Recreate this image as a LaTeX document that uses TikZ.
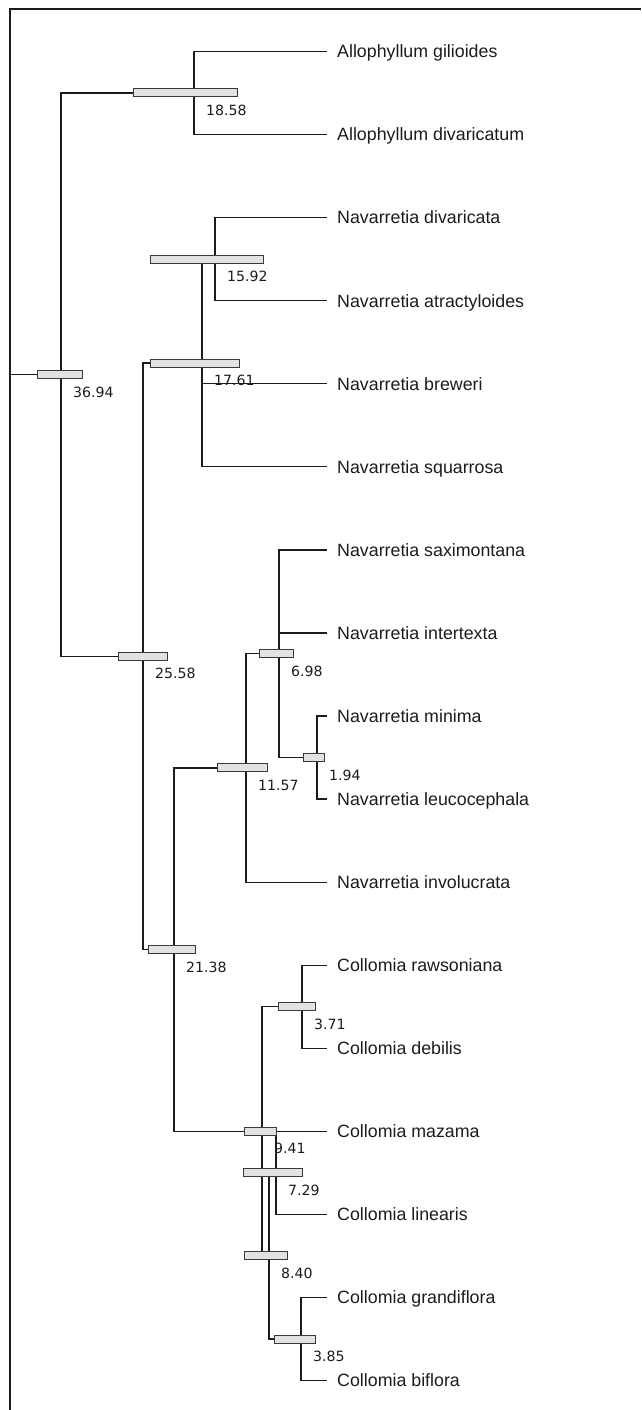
\documentclass[tikz,border=0pt]{standalone}
\usepackage{fontspec}
\newfontfamily\namefont{Liberation Sans}
\newfontfamily\numfont{DejaVu Sans}
\usetikzlibrary{calc}
\definecolor{inkc}{HTML}{1C1C1C}
\definecolor{barfill}{HTML}{E2E2E2}
\definecolor{bardraw}{HTML}{3A3A3A}
\begin{document}
\begin{tikzpicture}[x=1pt,y=-1pt,
  branch/.style={draw=inkc,line width=1.2pt},
  bar/.style={draw=bardraw,fill=barfill,line width=1pt,rectangle,inner sep=0pt,minimum height=8pt},
  leaf/.style={font=\namefont\fontsize{17.8}{20}\selectfont,text=inkc,anchor=west,inner xsep=10pt,inner ysep=0pt,text height=12.7pt,text depth=0pt},
  num/.style={font=\numfont\fontsize{14.1}{16}\selectfont,text=inkc,anchor=base west,inner sep=0pt}]
\useasboundingbox (0,0) rectangle (641,1410);
% frame
\coordinate (fbl) at (10,1410);
\coordinate (ftl) at (10,9);
\coordinate (ftr) at (641,9);
\draw[line width=2pt,draw=inkc] (fbl) -- (ftl) -- (ftr);
% leaves
\node[leaf] (l0) at (327,51.5) {Allophyllum gilioides};
\node[leaf] (l1) at (327,134.6) {Allophyllum divaricatum};
\node[leaf] (l2) at (327,217.6) {Navarretia divaricata};
\node[leaf] (l3) at (327,300.7) {Navarretia atractyloides};
\node[leaf] (l4) at (327,383.7) {Navarretia breweri};
\node[leaf] (l5) at (327,466.8) {Navarretia squarrosa};
\node[leaf] (l6) at (327,549.9) {Navarretia saximontana};
\node[leaf] (l7) at (327,632.9) {Navarretia intertexta};
\node[leaf] (l8) at (327,716.0) {Navarretia minima};
\node[leaf] (l9) at (327,799.0) {Navarretia leucocephala};
\node[leaf] (l10) at (327,882.1) {Navarretia involucrata};
\node[leaf] (l11) at (327,965.2) {Collomia rawsoniana};
\node[leaf] (l12) at (327,1048.2) {Collomia debilis};
\node[leaf] (l13) at (327,1131.3) {Collomia mazama};
\node[leaf] (l14) at (327,1214.3) {Collomia linearis};
\node[leaf] (l15) at (327,1297.4) {Collomia grandiflora};
\node[leaf] (l16) at (327,1380.5) {Collomia biflora};
% internal nodes
\coordinate (nA) at (61,374.7);
\coordinate (nB) at (194,93.0);
\coordinate (nC) at (143,656.3);
\coordinate (nD) at (202,363.0);
\coordinate (nE) at (215,259.2);
\coordinate (nF) at (174,949.6);
\coordinate (nG) at (246,767.9);
\coordinate (nH) at (279,653.7);
\coordinate (nI) at (317,757.5);
\coordinate (nJ) at (262,1131.3);
\coordinate (nK) at (302,1006.7);
\coordinate (nL) at (269,1255.9);
\coordinate (nM) at (276,1172.8);
\coordinate (nN) at (301,1339.0);
\coordinate (root) at (10,374.7);
% branches
\draw[branch] (root) -- (nA);
\draw[branch] (nB) -| (nA) |- (nC);
\draw[branch] (l0.west) -| (nB) |- (l1.west);
\draw[branch] (nD) -| (nC) |- (nF);
\draw[branch] (nE) -| (nD) |- (l5.west);
\draw[branch] (nD |- l4.west) -- (l4.west);
\draw[branch] (l2.west) -| (nE) |- (l3.west);
\draw[branch] (nG) -| (nF) |- (nJ);
\draw[branch] (nH) -| (nG) |- (l10.west);
\draw[branch] (l6.west) -| (nH) |- (nI);
\draw[branch] (nH |- l7.west) -- (l7.west);
\draw[branch] (l8.west) -| (nI) |- (l9.west);
\draw[branch] (nK) -| (nJ) |- (nL);
\draw[branch] (l11.west) -| (nK) |- (l12.west);
\draw[branch] (nM) -| (nL) |- (nN);
\draw[branch] (l13.west) -| (nM) |- (l14.west);
\draw[branch] (l15.west) -| (nN) |- (l16.west);
% bars
\node[bar,minimum width=45pt] (bA) at (59.5,374.7) {};
\node[bar,minimum width=104pt] (bB) at (185,93.0) {};
\node[bar,minimum width=49pt] (bC) at (142.5,656.3) {};
\node[bar,minimum width=89pt] (bD) at (194.5,363.0) {};
\node[bar,minimum width=113pt] (bE) at (206.5,259.2) {};
\node[bar,minimum width=47pt] (bF) at (171.5,949.6) {};
\node[bar,minimum width=50pt] (bG) at (242,767.9) {};
\node[bar,minimum width=34pt] (bH) at (276,653.7) {};
\node[bar,minimum width=21pt] (bI) at (313.5,757.5) {};
\node[bar,minimum width=32pt] (bJ) at (260,1131.3) {};
\node[bar,minimum width=37pt] (bK) at (296.5,1006.7) {};
\node[bar,minimum width=43pt] (bL) at (265.5,1255.9) {};
\node[bar,minimum width=59pt] (bM) at (272.5,1172.8) {};
\node[bar,minimum width=41pt] (bN) at (294.5,1339.0) {};
% labels
\node[num] (tA) at ($(nA)+(12,22.5)$) {36.94};
\node[num] (tB) at ($(nB)+(12,22.5)$) {18.58};
\node[num] (tC) at ($(nC)+(12,22.5)$) {25.58};
\node[num] (tD) at ($(nD)+(12,22.5)$) {17.61};
\node[num] (tE) at ($(nE)+(12,22.5)$) {15.92};
\node[num] (tF) at ($(nF)+(12,22.5)$) {21.38};
\node[num] (tG) at ($(nG)+(12,22.5)$) {11.57};
\node[num] (tH) at ($(nH)+(12,22.5)$) {6.98};
\node[num] (tI) at ($(nI)+(12,22.5)$) {1.94};
\node[num] (tJ) at ($(nJ)+(12,22.5)$) {9.41};
\node[num] (tK) at ($(nK)+(12,22.5)$) {3.71};
\node[num] (tL) at ($(nL)+(12,22.5)$) {8.40};
\node[num] (tM) at ($(nM)+(12,22.5)$) {7.29};
\node[num] (tN) at ($(nN)+(12,22.5)$) {3.85};
\end{tikzpicture}
\end{document}
